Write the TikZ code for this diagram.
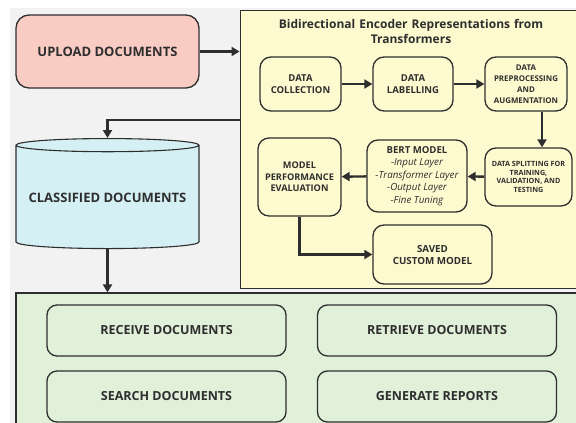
\documentclass[tikz,border=0pt]{standalone}
\usepackage{fontspec}
\setmainfont{Open Sans}
\usetikzlibrary{arrows.meta, positioning, shapes.geometric}

\definecolor{pagegray}{HTML}{F2F2F2}
\definecolor{inkline}{HTML}{2E2E2E}
\definecolor{uploadpink}{HTML}{F8CBC3}
\definecolor{storecyan}{HTML}{D5F0F4}
\definecolor{bertyellow}{HTML}{FEFACF}
\definecolor{servicegreen}{HTML}{E0F0D9}

\newcommand{\fs}[2]{\fontsize{#1}{#2}\selectfont}

\begin{document}
\begin{tikzpicture}[x=1pt, y=-1pt,
  every node/.style={text=inkline, align=center, font=\bfseries},
  block/.style={draw=inkline, line width=1.3pt, rounded corners=11pt},
  stage/.style={block, fill=bertyellow, inner sep=1pt, font=\bfseries\fs{9.5}{12}},
  service/.style={block, fill=servicegreen, rounded corners=10pt,
    minimum width=239pt, minimum height=51pt, font=\bfseries\fs{12.5}{14}},
  flow/.style={draw=inkline, line width=2.4pt, -{Triangle[length=8pt,width=9pt]}}]
\useasboundingbox (0,0) rectangle (576,423);
% Page background
\fill[pagegray] (10,8) rectangle (576,423);
% Yellow BERT frame and green services panel
\node[draw=inkline, line width=0.9pt, fill=bertyellow, minimum width=340pt, minimum height=278pt] (frame) at (410,149) {};
\node[draw=inkline, line width=1.2pt, fill=servicegreen, minimum width=566pt, minimum height=140pt] (panel) at (299,363) {};
% Left column
\node[block, fill=uploadpink, rounded corners=13pt, minimum width=183pt, minimum height=73pt, font=\bfseries\fs{13}{15}] (upload) at (107.5,51.5) {UPLOAD DOCUMENTS};
\node[cylinder, shape border rotate=90, aspect=0.08, draw=inkline, line width=1.1pt, cylinder uses custom fill, cylinder body fill=storecyan, cylinder end fill=storecyan, minimum width=183pt, minimum height=110pt, font=\bfseries\fs{13}{15}] (store) at (107.5,198) {CLASSIFIED DOCUMENTS};
% Title of the frame
\node[font=\bfseries\fs{12}{15}, text width=320pt] (title) at (411,31) {Bidirectional Encoder Representations from\\Transformers};
% Pipeline stages
\node[stage, minimum width=81pt, minimum height=54pt] (collect) at (300.5,84) {DATA\\COLLECTION};
\node[stage, minimum width=80pt, minimum height=54pt] (label) at (413,84) {DATA\\LABELLING};
\node[stage, minimum width=82pt, minimum height=54pt, font=\bfseries\fs{7.9}{11}] (prep) at (526,84) {DATA\\PREPROCESSING\\AND\\AUGMENTATION};
\node[stage, minimum width=87pt, minimum height=58pt, font=\bfseries\fs{7.2}{8.8}] (split) at (528.5,177) {DATA SPLITTING FOR\\TRAINING,\\VALIDATION, AND\\TESTING};
\node[stage, minimum width=100pt, minimum height=72pt, font=\mdseries\itshape\fs{9.8}{12.4}] (bert) at (417,176) {\textbf{\upshape\fs{9.6}{12.4}BERT MODEL}\\-Input Layer\\-Transformer Layer\\-Output Layer\\-Fine Tuning};
\node[stage, minimum width=83pt, minimum height=78pt, font=\bfseries\fs{9.2}{11.5}] (eval) at (299.5,177) {MODEL\\PERFORMANCE\\EVALUATION};
\node[stage, minimum width=119pt, minimum height=59pt, font=\bfseries\fs{9.8}{12}] (saved) at (432.5,254.5) {SAVED\\CUSTOM MODEL};
% Services
\node[service] (receive) at (166.5,330.5) {RECEIVE DOCUMENTS};
\node[service] (retrieve) at (437,330.5) {RETRIEVE DOCUMENTS};
\node[service] (search) at (166.5,396.5) {SEARCH DOCUMENTS};
\node[service] (report) at (437,396.5) {GENERATE REPORTS};
% Connectors
\coordinate (fork) at (240,120);
\draw[flow] (upload.east) -- (upload.east -| frame.west);
\draw[flow] (frame.west |- fork) -| (store.north);
\draw[flow] (store.south) -- (store.south |- panel.north);
\draw[flow] (collect) -- (label);
\draw[flow] (label) -- (prep);
\draw[flow] ([xshift=16pt]prep.south) -- ([xshift=16pt]prep.south |- split.north);
\draw[flow] (split) -- (bert);
\draw[flow] (bert) -- (eval);
\draw[flow] (eval.south) |- (saved.west);
\end{tikzpicture}
\end{document}
